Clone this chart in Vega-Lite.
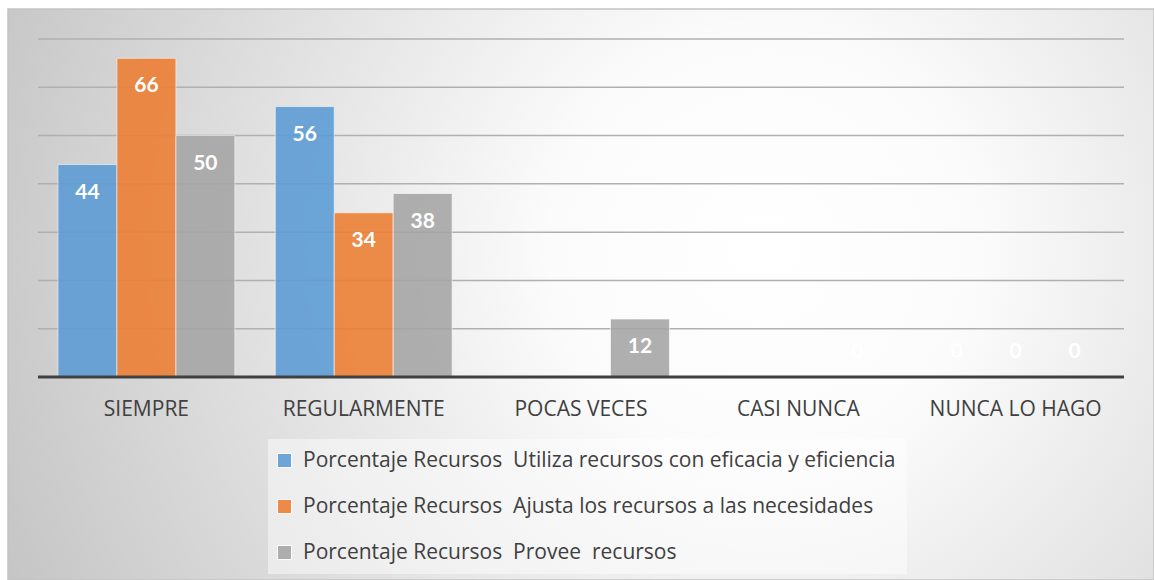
{
  "$schema": "https://vega.github.io/schema/vega-lite/v6.json",
  "width": 1146,
  "height": 571,
  "autosize": {"type": "none"},
  "padding": {"left": 8, "top": 9, "right": 0, "bottom": 0},
  "background": "#ffffff",
  "config": {
    "view": {
      "stroke": "#c4c4c4",
      "strokeWidth": 1.5,
      "fill": {
        "gradient": "radial",
        "x1": 0.66, "y1": 0.46, "r1": 0,
        "x2": 0.66, "y2": 0.46, "r2": 0.75,
        "stops": [
          {"offset": 0, "color": "#ffffff"},
          {"offset": 0.25, "color": "#fbfbfb"},
          {"offset": 1, "color": "#c2c2c2"}
        ]
      }
    },
    "font": "Open Sans"
  },
  "resolve": {"axis": {"x": "independent"}},
  "datasets": {
    "main": [
      {"cat": "SIEMPRE", "series": "Porcentaje Recursos \u00a0Utiliza recursos con eficacia y eficiencia", "value": 44},
      {"cat": "SIEMPRE", "series": "Porcentaje Recursos \u00a0Ajusta los recursos a las necesidades", "value": 66},
      {"cat": "SIEMPRE", "series": "Porcentaje Recursos \u00a0Provee \u00a0recursos", "value": 50},
      {"cat": "REGULARMENTE", "series": "Porcentaje Recursos \u00a0Utiliza recursos con eficacia y eficiencia", "value": 56},
      {"cat": "REGULARMENTE", "series": "Porcentaje Recursos \u00a0Ajusta los recursos a las necesidades", "value": 34},
      {"cat": "REGULARMENTE", "series": "Porcentaje Recursos \u00a0Provee \u00a0recursos", "value": 38},
      {"cat": "POCAS VECES", "series": "Porcentaje Recursos \u00a0Utiliza recursos con eficacia y eficiencia", "value": null},
      {"cat": "POCAS VECES", "series": "Porcentaje Recursos \u00a0Ajusta los recursos a las necesidades", "value": null},
      {"cat": "POCAS VECES", "series": "Porcentaje Recursos \u00a0Provee \u00a0recursos", "value": 12},
      {"cat": "CASI NUNCA", "series": "Porcentaje Recursos \u00a0Utiliza recursos con eficacia y eficiencia", "value": null},
      {"cat": "CASI NUNCA", "series": "Porcentaje Recursos \u00a0Ajusta los recursos a las necesidades", "value": null},
      {"cat": "CASI NUNCA", "series": "Porcentaje Recursos \u00a0Provee \u00a0recursos", "value": 0},
      {"cat": "NUNCA LO HAGO", "series": "Porcentaje Recursos \u00a0Utiliza recursos con eficacia y eficiencia", "value": 0},
      {"cat": "NUNCA LO HAGO", "series": "Porcentaje Recursos \u00a0Ajusta los recursos a las necesidades", "value": 0},
      {"cat": "NUNCA LO HAGO", "series": "Porcentaje Recursos \u00a0Provee \u00a0recursos", "value": 0}
    ],
    "grid": [{"g": 10}, {"g": 20}, {"g": 30}, {"g": 40}, {"g": 50}, {"g": 60}, {"g": 70}]
  },
  "layer": [
    {
      "data": {"name": "grid"},
      "mark": {"type": "rule", "color": "#b0b0b0", "strokeWidth": 1.5, "xOffset": -20, "x2Offset": 20},
      "encoding": {
        "x": {"datum": "SIEMPRE", "type": "nominal", "bandPosition": 0, "axis": null},
        "x2": {"datum": "NUNCA LO HAGO", "bandPosition": 1},
        "y": {"field": "g", "type": "quantitative", "scale": {"domain": [-42.04, 76.21], "nice": false, "zero": false}, "axis": null}
      }
    },
    {
      "data": {"name": "main"},
      "mark": {"type": "bar", "opacity": 0.88, "stroke": "#ffffff", "strokeWidth": 1, "strokeOpacity": 0.6},
      "encoding": {
        "x": {
          "field": "cat", "type": "nominal",
          "sort": ["SIEMPRE", "REGULARMENTE", "POCAS VECES", "CASI NUNCA", "NUNCA LO HAGO"],
          "scale": {"domain": ["SIEMPRE", "REGULARMENTE", "POCAS VECES", "CASI NUNCA", "NUNCA LO HAGO"], "paddingInner": 0.186, "paddingOuter": 0.23},
          "axis": {"orient": "bottom", "offset": -203, "bandPosition": 0.5, "title": null, "domain": false, "ticks": false, "grid": false, "labelPadding": 21, "labelFontSize": 21, "labelColor": "#404040", "labelFont": "Open Sans", "labelAngle": 0}
        },
        "xOffset": {
          "field": "series", "type": "nominal",
          "sort": ["Porcentaje Recursos \u00a0Utiliza recursos con eficacia y eficiencia", "Porcentaje Recursos \u00a0Ajusta los recursos a las necesidades", "Porcentaje Recursos \u00a0Provee \u00a0recursos"],
          "scale": {"paddingInner": 0, "paddingOuter": 0}
        },
        "y": {"field": "value", "type": "quantitative", "scale": {"domain": [-42.04, 76.21], "nice": false, "zero": false}, "axis": null},
        "color": {
          "field": "series", "type": "nominal",
          "scale": {
            "domain": ["Porcentaje Recursos \u00a0Utiliza recursos con eficacia y eficiencia", "Porcentaje Recursos \u00a0Ajusta los recursos a las necesidades", "Porcentaje Recursos \u00a0Provee \u00a0recursos"],
            "range": ["#5b9bd5", "#ed7d31", "#a5a5a5"]
          },
          "legend": {
            "orient": "none", "legendX": 260, "legendY": 430,
            "title": null, "direction": "vertical",
            "symbolType": "square", "symbolSize": 196, "symbolOpacity": 0.88,
            "symbolStrokeColor": "#ffffff", "symbolStrokeWidth": 1, "symbolOffset": -5,
            "labelFontSize": 21, "labelColor": "#404040", "labelFont": "Open Sans",
            "labelLimit": 900, "labelOffset": 8, "rowPadding": 24,
            "padding": 11, "fillColor": "rgba(255,255,255,0.45)"
          }
        }
      }
    },
    {
      "data": {"name": "main"},
      "transform": [{"filter": "datum.value > 0"}],
      "mark": {"type": "text", "dy": 28, "baseline": "middle", "align": "center", "fontSize": 21, "fontWeight": "bold", "color": "#ffffff", "font": "Lato"},
      "encoding": {
        "x": {"field": "cat", "type": "nominal", "axis": null},
        "xOffset": {"field": "series", "type": "nominal", "sort": ["Porcentaje Recursos \u00a0Utiliza recursos con eficacia y eficiencia", "Porcentaje Recursos \u00a0Ajusta los recursos a las necesidades", "Porcentaje Recursos \u00a0Provee \u00a0recursos"]},
        "y": {"field": "value", "type": "quantitative"},
        "text": {"field": "value", "type": "quantitative"}
      }
    },
    {
      "data": {"name": "main"},
      "transform": [{"filter": "datum.value === 0"}],
      "mark": {"type": "text", "dy": -25, "baseline": "middle", "align": "center", "fontSize": 21, "fontWeight": "bold", "color": "#ffffff", "font": "Lato"},
      "encoding": {
        "x": {"field": "cat", "type": "nominal", "axis": null},
        "xOffset": {"field": "series", "type": "nominal", "sort": ["Porcentaje Recursos \u00a0Utiliza recursos con eficacia y eficiencia", "Porcentaje Recursos \u00a0Ajusta los recursos a las necesidades", "Porcentaje Recursos \u00a0Provee \u00a0recursos"]},
        "y": {"field": "value", "type": "quantitative"},
        "text": {"field": "value", "type": "quantitative"}
      }
    },
    {
      "data": {"values": [{"b": 0}]},
      "mark": {"type": "rule", "color": "#404040", "strokeWidth": 3, "xOffset": -20, "x2Offset": 20},
      "encoding": {
        "x": {"datum": "SIEMPRE", "type": "nominal", "bandPosition": 0, "axis": null},
        "x2": {"datum": "NUNCA LO HAGO", "bandPosition": 1},
        "y": {"field": "b", "type": "quantitative"}
      }
    }
  ]
}
